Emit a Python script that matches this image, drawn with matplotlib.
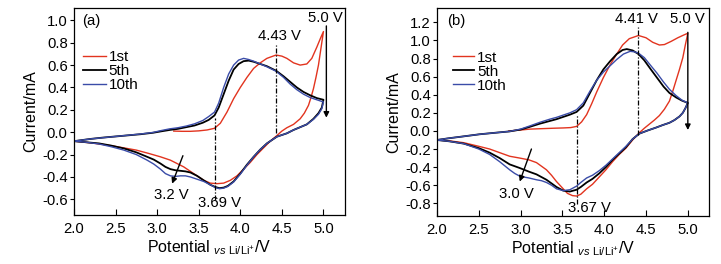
import numpy as np
import matplotlib
matplotlib.use("Agg")
import matplotlib.pyplot as plt

# ---- panel (a) data (V, mA) ----
a1_fwd_x = [3.20, 3.30, 3.40, 3.50, 3.60, 3.69, 3.76, 3.84, 3.92, 4.00, 4.08, 4.16, 4.24, 4.32, 4.43,
            4.50, 4.56, 4.64, 4.72, 4.80, 4.86, 4.92, 4.97, 5.00]
a1_fwd_y = [0.01, 0.008, 0.008, 0.012, 0.02, 0.035, 0.08, 0.18, 0.30, 0.40, 0.49, 0.57, 0.62, 0.66, 0.69,
            0.68, 0.66, 0.62, 0.60, 0.61, 0.66, 0.76, 0.85, 0.90]
a1_rev_x = [5.00, 4.97, 4.94, 4.91, 4.88, 4.85, 4.82, 4.77, 4.72, 4.64, 4.56, 4.50, 4.44, 4.36, 4.28,
            4.20, 4.12, 4.04, 3.96, 3.88, 3.80, 3.72, 3.64, 3.56, 3.48, 3.40, 3.32, 3.24, 3.16, 3.04,
            2.90, 2.75, 2.60, 2.40, 2.20, 2.00]
a1_rev_y = [0.90, 0.75, 0.60, 0.49, 0.39, 0.31, 0.24, 0.17, 0.12, 0.07, 0.04, 0.01, -0.03, -0.08, -0.14,
            -0.20, -0.27, -0.33, -0.39, -0.43, -0.455, -0.46, -0.455, -0.43, -0.39, -0.35, -0.31, -0.28,
            -0.25, -0.22, -0.19, -0.16, -0.14, -0.115, -0.095, -0.08]

a5_fwd_x = [2.00, 2.10, 2.20, 2.35, 2.50, 2.65, 2.80, 2.95, 3.05, 3.15, 3.25, 3.35, 3.45, 3.55, 3.62,
            3.69, 3.74, 3.80, 3.86, 3.92, 3.98, 4.04, 4.10, 4.16, 4.24, 4.32, 4.43, 4.52, 4.60, 4.68,
            4.76, 4.84, 4.92, 5.00]
a5_fwd_y = [-0.08, -0.07, -0.06, -0.048, -0.038, -0.028, -0.018, -0.005, 0.008, 0.02, 0.03, 0.045, 0.06,
            0.085, 0.11, 0.15, 0.22, 0.34, 0.46, 0.56, 0.61, 0.635, 0.64, 0.63, 0.61, 0.59, 0.55, 0.50,
            0.45, 0.40, 0.36, 0.33, 0.305, 0.29]
a5_rev_x = [5.00, 4.98, 4.94, 4.88, 4.80, 4.72, 4.64, 4.56, 4.50, 4.44, 4.38, 4.32, 4.24, 4.16, 4.08,
            4.00, 3.92, 3.85, 3.80, 3.75, 3.70, 3.64, 3.56, 3.48, 3.40, 3.34, 3.28, 3.22, 3.16, 3.10,
            3.04, 2.96, 2.88, 2.75, 2.60, 2.45, 2.30, 2.15, 2.00]
a5_rev_y = [0.29, 0.22, 0.17, 0.12, 0.07, 0.045, 0.02, -0.01, -0.025, -0.04, -0.07, -0.10, -0.155, -0.22,
            -0.29, -0.37, -0.44, -0.48, -0.495, -0.50, -0.49, -0.47, -0.43, -0.39, -0.36, -0.35, -0.345,
            -0.34, -0.33, -0.31, -0.28, -0.245, -0.22, -0.18, -0.145, -0.12, -0.10, -0.09, -0.08]

a10_fwd_x = [2.00, 2.20, 2.50, 2.80, 2.95, 3.05, 3.15, 3.25, 3.35, 3.45, 3.55, 3.62, 3.69, 3.74, 3.80,
             3.86, 3.92, 3.98, 4.04, 4.10, 4.16, 4.24, 4.32, 4.43, 4.52, 4.60, 4.68, 4.76, 4.84, 4.92, 5.00]
a10_fwd_y = [-0.08, -0.06, -0.038, -0.016, -0.002, 0.015, 0.03, 0.04, 0.055, 0.075, 0.105, 0.14, 0.18,
             0.26, 0.40, 0.52, 0.60, 0.645, 0.66, 0.65, 0.635, 0.61, 0.585, 0.545, 0.49, 0.43, 0.38,
             0.34, 0.31, 0.29, 0.27]
a10_rev_x = [5.00, 4.98, 4.94, 4.88, 4.80, 4.72, 4.64, 4.56, 4.50, 4.44, 4.38, 4.32, 4.24, 4.16, 4.08,
             4.00, 3.92, 3.85, 3.80, 3.75, 3.70, 3.64, 3.56, 3.48, 3.40, 3.34, 3.28, 3.22, 3.16, 3.10,
             3.04, 2.96, 2.88, 2.75, 2.60, 2.45, 2.30, 2.15, 2.00]
a10_rev_y = [0.27, 0.21, 0.16, 0.115, 0.07, 0.045, 0.02, -0.01, -0.025, -0.04, -0.07, -0.10, -0.155, -0.22,
             -0.295, -0.375, -0.445, -0.485, -0.50, -0.505, -0.495, -0.47, -0.44, -0.42, -0.40, -0.39,
             -0.39, -0.395, -0.39, -0.37, -0.33, -0.285, -0.25, -0.20, -0.16, -0.13, -0.105, -0.09, -0.08]

# ---- panel (b) data ----
b1_fwd_x = [2.86, 3.00, 3.11, 3.25, 3.40, 3.51, 3.60, 3.67, 3.73, 3.79, 3.85, 3.91, 3.99, 4.07, 4.15,
            4.22, 4.30, 4.41, 4.50, 4.58, 4.66, 4.72, 4.80, 4.88, 4.95, 5.00]
b1_fwd_y = [0.0, 0.01, 0.02, 0.025, 0.03, 0.033, 0.037, 0.05, 0.10, 0.18, 0.30, 0.43, 0.59, 0.73, 0.85,
            0.95, 1.02, 1.055, 1.03, 0.98, 0.95, 0.955, 0.99, 1.03, 1.06, 1.08]
b1_rev_x = [5.00, 4.97, 4.94, 4.90, 4.86, 4.82, 4.78, 4.72, 4.66, 4.60, 4.54, 4.48, 4.42, 4.34, 4.26,
            4.18, 4.10, 4.02, 3.94, 3.86, 3.79, 3.72, 3.67, 3.62, 3.56, 3.51, 3.43, 3.37, 3.31, 3.25,
            3.19, 3.10, 2.99, 2.87, 2.75, 2.63, 2.50, 2.32, 2.15, 2.00]
b1_rev_y = [1.08, 0.95, 0.81, 0.68, 0.56, 0.44, 0.33, 0.24, 0.17, 0.12, 0.075, 0.03, -0.02, -0.10, -0.19,
            -0.26, -0.34, -0.43, -0.51, -0.59, -0.64, -0.70, -0.72, -0.715, -0.69, -0.64, -0.56, -0.49,
            -0.43, -0.39, -0.35, -0.32, -0.30, -0.28, -0.24, -0.20, -0.17, -0.13, -0.11, -0.10]

b5_fwd_x = [2.00, 2.15, 2.32, 2.51, 2.70, 2.87, 3.00, 3.11, 3.23, 3.35, 3.43, 3.51, 3.59, 3.67, 3.75,
            3.83, 3.91, 3.99, 4.07, 4.15, 4.22, 4.27, 4.34, 4.41, 4.48, 4.55, 4.63, 4.71, 4.78, 4.86,
            4.93, 5.00]
b5_fwd_y = [-0.10, -0.08, -0.06, -0.037, -0.02, -0.005, 0.015, 0.045, 0.08, 0.11, 0.13, 0.155, 0.18, 0.21,
            0.28, 0.42, 0.56, 0.68, 0.77, 0.85, 0.895, 0.905, 0.89, 0.85, 0.78, 0.69, 0.59, 0.49, 0.42,
            0.37, 0.335, 0.31]
b5_rev_x = [5.00, 4.97, 4.94, 4.90, 4.84, 4.78, 4.70, 4.62, 4.52, 4.42, 4.34, 4.26, 4.18, 4.10, 4.02,
            3.94, 3.86, 3.79, 3.72, 3.67, 3.59, 3.51, 3.43, 3.37, 3.31, 3.25, 3.19, 3.10, 2.99, 2.93,
            2.87, 2.75, 2.63, 2.50, 2.32, 2.15, 2.00]
b5_rev_y = [0.31, 0.25, 0.20, 0.16, 0.12, 0.09, 0.065, 0.037, 0.005, -0.03, -0.09, -0.18, -0.25, -0.32,
            -0.40, -0.47, -0.53, -0.57, -0.62, -0.65, -0.67, -0.66, -0.62, -0.58, -0.54, -0.51, -0.48,
            -0.45, -0.41, -0.39, -0.37, -0.30, -0.24, -0.19, -0.14, -0.115, -0.10]

b10_fwd_x = [2.00, 2.15, 2.32, 2.51, 2.70, 2.87, 3.00, 3.11, 3.23, 3.35, 3.43, 3.51, 3.59, 3.67, 3.75,
             3.83, 3.91, 3.99, 4.07, 4.15, 4.23, 4.31, 4.36, 4.41, 4.48, 4.55, 4.63, 4.71, 4.78, 4.86,
             4.93, 5.00]
b10_fwd_y = [-0.10, -0.08, -0.06, -0.037, -0.02, -0.005, 0.02, 0.055, 0.095, 0.13, 0.15, 0.175, 0.20,
             0.235, 0.31, 0.44, 0.56, 0.65, 0.72, 0.79, 0.85, 0.88, 0.875, 0.86, 0.81, 0.73, 0.64, 0.54,
             0.46, 0.39, 0.34, 0.31]
b10_rev_x = [5.00, 4.97, 4.94, 4.90, 4.84, 4.78, 4.70, 4.62, 4.52, 4.42, 4.34, 4.26, 4.18, 4.10, 4.02,
             3.94, 3.86, 3.79, 3.72, 3.67, 3.59, 3.51, 3.43, 3.37, 3.31, 3.25, 3.19, 3.10, 3.04, 2.99,
             2.93, 2.87, 2.75, 2.63, 2.50, 2.32, 2.15, 2.00]
b10_rev_y = [0.31, 0.25, 0.20, 0.16, 0.12, 0.09, 0.065, 0.037, 0.005, -0.03, -0.09, -0.17, -0.24, -0.31,
             -0.38, -0.44, -0.49, -0.52, -0.57, -0.61, -0.65, -0.66, -0.64, -0.60, -0.57, -0.55, -0.54,
             -0.52, -0.51, -0.50, -0.47, -0.43, -0.34, -0.26, -0.20, -0.14, -0.115, -0.10]

cycle_labels = ["1st", "5th", "10th"]
x_ticks = [2.0, 2.5, 3.0, 3.5, 4.0, 4.5, 5.0]
a_y_ticks = [-0.6, -0.4, -0.2, 0.0, 0.2, 0.4, 0.6, 0.8, 1.0]
b_y_ticks = [-0.8, -0.6, -0.4, -0.2, 0.0, 0.2, 0.4, 0.6, 0.8, 1.0, 1.2]

RED = "#e2341f"
BLACK = "#000000"
BLUE = "#3a4ca8"
DASHDOT = (0, (4, 1.5, 1, 1.5))
FS = 10.7  # tick labels and annotations

plt.rcParams["font.family"] = "Liberation Sans"
plt.rcParams["mathtext.fontset"] = "custom"
plt.rcParams["mathtext.rm"] = "Liberation Sans"
plt.rcParams["mathtext.it"] = "Liberation Sans:italic"


def draw_cycles(ax, cycles):
    colors = [RED, BLACK, BLUE]
    widths = [1.0, 1.3, 1.0]
    for (fx, fy, rx, ry), lab, c, w in zip(cycles, cycle_labels, colors, widths):
        # forward sweep then reverse sweep as one loop
        ax.plot(list(fx) + list(rx), list(fy) + list(ry), color=c, lw=w, label=lab)


def style_axes(ax, ylim, yticks):
    ax.set_xlim(2.0, 5.26)
    ax.set_ylim(*ylim)
    ax.set_xticks(x_ticks)
    ax.set_yticks(yticks)
    ax.set_xticklabels([f"{t:.1f}" for t in x_ticks])
    ax.set_yticklabels([f"{t:.1f}" for t in yticks])
    ax.tick_params(axis="x", direction="in", length=4, width=0.8, pad=5, labelsize=FS)
    ax.tick_params(axis="y", direction="out", length=3, width=0.8, pad=1.5, labelsize=FS)
    for s in ax.spines.values():
        s.set_linewidth(0.9)
    ax.set_xlabel(r"Potential $_{\mathit{vs}\ \mathrm{Li/Li^{+}}}$/V", fontsize=11.5, labelpad=2)
    ax.set_ylabel("Current/mA", fontsize=11.5, labelpad=3)


def arrow(ax, start, end):
    ax.annotate("", xy=end, xytext=start,
                arrowprops=dict(arrowstyle="-|>", color="k", lw=1.0, mutation_scale=8,
                                shrinkA=0, shrinkB=0))


fig = plt.figure(figsize=(7.21, 2.64), dpi=100)
ax_a = fig.add_axes([0.1026, 0.1856, 0.376, 0.784])
ax_b = fig.add_axes([0.606, 0.182, 0.377, 0.788])

# panel (a)
draw_cycles(ax_a, [(a1_fwd_x, a1_fwd_y, a1_rev_x, a1_rev_y),
                   (a5_fwd_x, a5_fwd_y, a5_rev_x, a5_rev_y),
                   (a10_fwd_x, a10_fwd_y, a10_rev_x, a10_rev_y)])
style_axes(ax_a, (-0.74, 1.11), a_y_ticks)
ax_a.plot([3.69, 3.69], [-0.61, 0.13], color="k", lw=0.9, ls=DASHDOT)
ax_a.plot([4.43, 4.43], [-0.01, 0.78], color="k", lw=0.9, ls=DASHDOT)
arrow(ax_a, (5.035, 0.95), (5.035, 0.13))
arrow(ax_a, (3.31, -0.21), (3.18, -0.46))
ax_a.text(4.47, 0.86, "4.43 V", ha="center", va="center", fontsize=FS)
ax_a.text(5.02, 1.02, "5.0 V", ha="center", va="center", fontsize=FS)
ax_a.text(3.17, -0.56, "3.2 V", ha="center", va="center", fontsize=FS)
ax_a.text(3.75, -0.635, "3.69 V", ha="center", va="center", fontsize=FS)
ax_a.text(2.21, 0.99, "(a)", ha="center", va="center", fontsize=FS)
ax_a.legend(loc="upper left", bbox_to_anchor=(0.035, 0.795), frameon=False, fontsize=11,
            handlelength=1.45, handletextpad=0.2, labelspacing=0.0, borderpad=0, borderaxespad=0)

# panel (b)
draw_cycles(ax_b, [(b1_fwd_x, b1_fwd_y, b1_rev_x, b1_rev_y),
                   (b5_fwd_x, b5_fwd_y, b5_rev_x, b5_rev_y),
                   (b10_fwd_x, b10_fwd_y, b10_rev_x, b10_rev_y)])
style_axes(ax_b, (-0.94, 1.36), b_y_ticks)
ax_b.set_xlim(2.0, 5.25)
ax_b.plot([3.67, 3.67], [-0.81, 0.185], color="k", lw=0.9, ls=DASHDOT)
ax_b.plot([4.41, 4.41], [-0.04, 1.15], color="k", lw=0.9, ls=DASHDOT)
arrow(ax_b, (5.0, 1.09), (5.0, 0.01))
arrow(ax_b, (3.13, -0.20), (2.99, -0.56))
ax_b.text(4.38, 1.24, "4.41 V", ha="center", va="center", fontsize=FS)
ax_b.text(4.99, 1.24, "5.0 V", ha="center", va="center", fontsize=FS)
ax_b.text(2.95, -0.70, "3.0 V", ha="center", va="center", fontsize=FS)
ax_b.text(3.82, -0.85, "3.67 V", ha="center", va="center", fontsize=FS)
ax_b.text(2.23, 1.21, "(b)", ha="center", va="center", fontsize=FS)
ax_b.legend(loc="upper left", bbox_to_anchor=(0.06, 0.795), frameon=False, fontsize=11,
            handlelength=1.35, handletextpad=0.2, labelspacing=0.0, borderpad=0, borderaxespad=0)

fig.savefig("out.png", dpi=100)
